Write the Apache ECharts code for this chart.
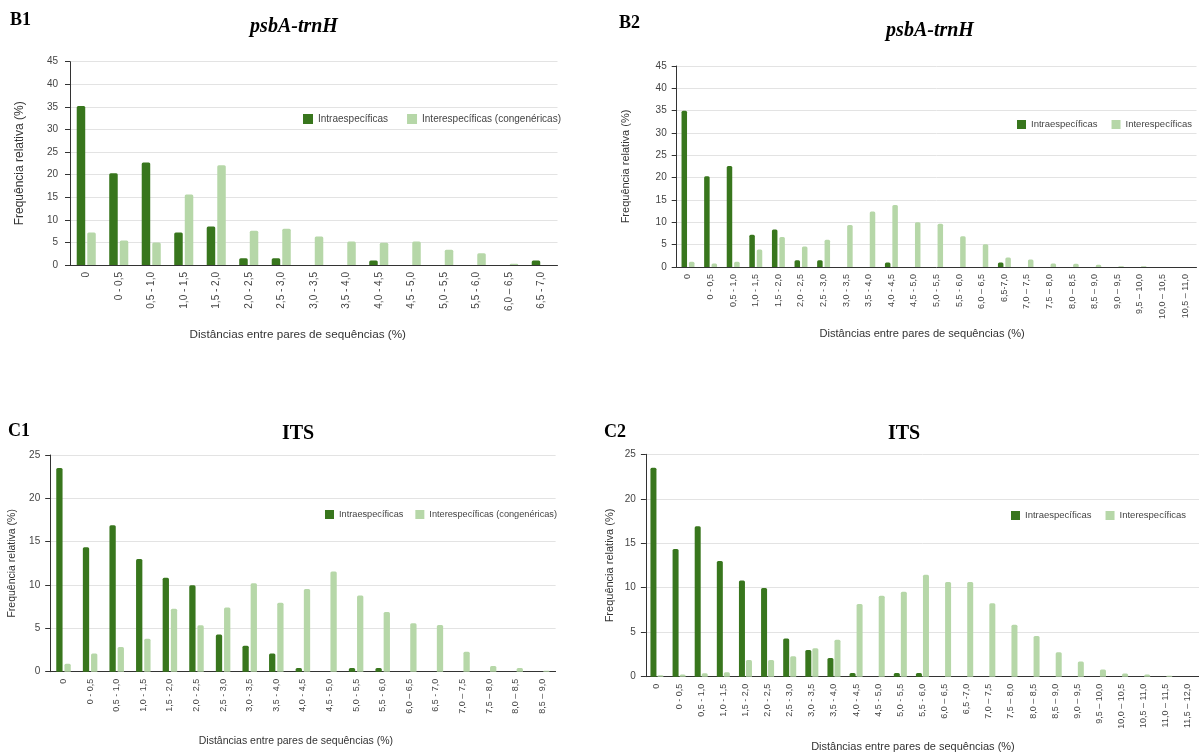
<!DOCTYPE html>
<html>
<head>
<meta charset="utf-8">
<title>psbA-trnH / ITS</title>
<script src="https://cdn.jsdelivr.net/npm/echarts@6/dist/echarts.min.js"></script>
<style>
  html, body { margin: 0; padding: 0; background: #fff; }
  #chart { width: 1199px; height: 756px; }
</style>
</head>
<body>
<div id="chart"></div>
<script>
// categorias (distâncias, %)
var catsB1 = ['0', '0 - 0,5', '0,5 - 1,0', '1,0 - 1,5', '1,5 - 2,0', '2,0 - 2,5', '2,5 - 3,0', '3,0 - 3,5',
  '3,5 - 4,0', '4,0 - 4,5', '4,5 - 5,0', '5,0 - 5,5', '5,5 - 6,0', '6,0 – 6,5', '6,5 - 7,0'];
var catsB2 = ['0', '0 - 0,5', '0,5 - 1,0', '1,0 - 1,5', '1,5 - 2,0', '2,0 - 2,5', '2,5 - 3,0', '3,0 - 3,5',
  '3,5 - 4,0', '4,0 - 4,5', '4,5 - 5,0', '5,0 - 5,5', '5,5 - 6,0', '6,0 – 6,5', '6,5-7,0', '7,0 – 7,5',
  '7,5 – 8,0', '8,0 – 8,5', '8,5 – 9,0', '9,0 – 9,5', '9,5 – 10,0', '10,0 – 10,5', '10,5 – 11,0'];
var catsC1 = ['0', '0 - 0,5', '0,5 - 1,0', '1,0 - 1,5', '1,5 - 2,0', '2,0 - 2,5', '2,5 - 3,0', '3,0 - 3,5',
  '3,5 - 4,0', '4,0 - 4,5', '4,5 - 5,0', '5,0 - 5,5', '5,5 - 6,0', '6,0 – 6,5', '6,5 - 7,0', '7,0 – 7,5',
  '7,5 – 8,0', '8,0 – 8,5', '8,5 – 9,0'];
var catsC2 = ['0', '0 - 0,5', '0,5 - 1,0', '1,0 - 1,5', '1,5 - 2,0', '2,0 - 2,5', '2,5 - 3,0', '3,0 - 3,5',
  '3,5 - 4,0', '4,0 - 4,5', '4,5 - 5,0', '5,0 - 5,5', '5,5 - 6,0', '6,0 – 6,5', '6,5 -7,0', '7,0 – 7,5',
  '7,5 – 8,0', '8,0 – 8,5', '8,5 – 9,0', '9,0 – 9,5', '9,5 – 10,0', '10,0 – 10,5', '10,5 – 11,0',
  '11,0 – 11,5', '11,5 – 12,0'];

// frequência relativa (%)
var intraB1 = [35.2, 20.3, 22.7, 7.2, 8.5, 1.5, 1.5, 0, 0, 1.0, 0, 0, 0, 0, 1.0];
var interB1 = [7.2, 5.4, 5.0, 15.6, 22.1, 7.6, 8.0, 6.3, 5.2, 4.9, 5.2, 3.4, 2.6, 0.3, 0];

var intraB2 = [35.0, 20.3, 22.6, 7.2, 8.4, 1.5, 1.5, 0, 0, 1.0, 0, 0, 0, 0, 1.0, 0, 0, 0, 0, 0, 0, 0, 0];
var interB2 = [1.2, 0.8, 1.2, 3.9, 6.7, 4.6, 6.1, 9.4, 12.4, 13.9, 10.0, 9.7, 6.9, 5.1, 2.1, 1.7,
  0.8, 0.7, 0.5, 0.15, 0.15, 0, 0];

var intraC1 = [23.5, 14.35, 16.9, 13.0, 10.85, 9.96, 4.3, 3.0, 2.1, 0.42, 0, 0.42, 0.42, 0, 0, 0, 0, 0, 0];
var interC1 = [0.92, 2.1, 2.85, 3.8, 7.27, 5.35, 7.4, 10.2, 7.96, 9.55, 11.55, 8.8, 6.9, 5.6, 5.4, 2.3,
  0.65, 0.42, 0.1];

var intraC2 = [23.5, 14.35, 16.9, 13.0, 10.8, 9.97, 4.3, 3.0, 2.1, 0.41, 0, 0.41, 0.41, 0, 0, 0, 0, 0,
  0, 0, 0, 0, 0, 0, 0];
var interC2 = [0.15, 0.26, 0.4, 0.5, 1.87, 1.87, 2.3, 3.2, 4.15, 8.17, 9.1, 9.55, 11.47, 10.65, 10.65,
  8.25, 5.85, 4.57, 2.74, 1.7, 0.82, 0.37, 0.26, 0.11, 0];

var DARK = '#38761d', LIGHT = '#b6d7a8';
var NAME_X = 'Distâncias entre pares de sequências (%)';
var NAME_Y = 'Frequência relativa (%)';

var myChart = echarts.init(document.getElementById('chart'));

// um painel = grid + eixos; estilos variam um pouco de painel para painel
var panels = [
  {grid: {left: 70, top: 61.7, width: 487.5, height: 203.3}, cats: catsB1, max: 45,
    xfs: 10, yfs: 10, nfs: 12, xnfs: 11.7, ylm: 12, ynGap: 44, xnGap: 64, xnPad: 32},
  {grid: {left: 676.7, top: 66, width: 519.8, height: 201}, cats: catsB2, max: 45,
    xfs: 9, yfs: 10, nfs: 11, xnfs: 11.1, ylm: 10, ynGap: 45, xnGap: 61, xnPad: 29},
  {grid: {left: 50.2, top: 455, width: 505.4, height: 216.7}, cats: catsC1, max: 25,
    xfs: 9, yfs: 10, nfs: 10.5, xnfs: 10.5, ylm: 10, ynGap: 33, xnGap: 64, xnPad: 14},
  {grid: {left: 645.9, top: 454.3, width: 554, height: 222.4}, cats: catsC2, max: 25,
    xfs: 9, yfs: 10, nfs: 11, xnfs: 11, ylm: 10, ynGap: 30, xnGap: 65, xnPad: 19}
];

var grids = [], xAxes = [], yAxes = [];
panels.forEach(function (p) {
  grids.push(p.grid);
  xAxes.push({
    type: 'category',
    gridIndex: grids.length - 1,
    data: p.cats,
    name: NAME_X,
    nameLocation: 'middle',
    nameGap: p.xnGap,
    nameTextStyle: {fontFamily: 'Liberation Sans', fontSize: p.xnfs, color: '#333', padding: [0, p.xnPad, 0, 0]},
    axisLine: {lineStyle: {color: '#333', width: 1}},
    axisTick: {show: false},
    axisLabel: {rotate: 90, interval: 0, margin: 7, fontFamily: 'Liberation Sans', fontSize: p.xfs, color: '#444'}
  });
  yAxes.push({
    type: 'value',
    gridIndex: grids.length - 1,
    min: 0,
    max: p.max,
    interval: 5,
    name: NAME_Y,
    nameLocation: 'middle',
    nameGap: p.ynGap,
    nameTextStyle: {fontFamily: 'Liberation Sans', fontSize: p.nfs, color: '#333'},
    axisLine: {show: true, lineStyle: {color: '#333', width: 1}},
    axisTick: {show: true, length: 5, lineStyle: {color: '#333'}},
    axisLabel: {margin: p.ylm, fontFamily: 'Liberation Sans', fontSize: p.yfs, color: '#444'},
    splitLine: {lineStyle: {color: '#e3e3e3', width: 1}}
  });
});

function bars(name, data, color, idx, bw, gap) {
  return {
    type: 'bar', name: name, data: data,
    xAxisIndex: idx, yAxisIndex: idx,
    barWidth: bw, barGap: gap,
    itemStyle: {color: color, borderRadius: [1.5, 1.5, 0, 0]}
  };
}

var titleFont = 'Liberation Serif';
var option = {
  backgroundColor: '#fff',
  animation: false,
  title: [
    {text: 'B1', left: 10, top: 11, padding: 0, textStyle: {fontFamily: titleFont, fontWeight: 'bold', fontSize: 18, color: '#000'}},
    {text: 'psbA-trnH', left: 294, top: 17, padding: 0, textAlign: 'center', textStyle: {fontFamily: titleFont, fontWeight: 'bold', fontStyle: 'italic', fontSize: 20, color: '#000'}},
    {text: 'B2', left: 619, top: 14, padding: 0, textStyle: {fontFamily: titleFont, fontWeight: 'bold', fontSize: 18, color: '#000'}},
    {text: 'psbA-trnH', left: 930, top: 21, padding: 0, textAlign: 'center', textStyle: {fontFamily: titleFont, fontWeight: 'bold', fontStyle: 'italic', fontSize: 20, color: '#000'}},
    {text: 'C1', left: 8, top: 422, padding: 0, textStyle: {fontFamily: titleFont, fontWeight: 'bold', fontSize: 18, color: '#000'}},
    {text: 'ITS', left: 298, top: 424, padding: 0, textAlign: 'center', textStyle: {fontFamily: titleFont, fontWeight: 'bold', fontSize: 20, color: '#000'}},
    {text: 'C2', left: 604, top: 423, padding: 0, textStyle: {fontFamily: titleFont, fontWeight: 'bold', fontSize: 18, color: '#000'}},
    {text: 'ITS', left: 904, top: 424, padding: 0, textAlign: 'center', textStyle: {fontFamily: titleFont, fontWeight: 'bold', fontSize: 20, color: '#000'}}
  ],
  legend: [
    {data: ['Intraespecíficas', 'Interespecíficas (congenéricas)'], left: 303, top: 114, padding: 0,
      itemWidth: 10, itemHeight: 10, itemGap: 19, icon: 'rect',
      textStyle: {fontFamily: 'Liberation Sans', fontSize: 10, color: '#444'}},
    {data: ['Intraespecíficas', 'Interespecíficas'], left: 1017, top: 119.5, padding: 0,
      itemWidth: 9, itemHeight: 9, itemGap: 14, icon: 'rect',
      textStyle: {fontFamily: 'Liberation Sans', fontSize: 9.5, color: '#444'}},
    {data: ['Intraespecíficas', 'Interespecíficas (congenéricas)'], left: 325, top: 510, padding: 0,
      itemWidth: 9, itemHeight: 9, itemGap: 12, icon: 'rect',
      textStyle: {fontFamily: 'Liberation Sans', fontSize: 9.2, color: '#444'}},
    {data: ['Intraespecíficas', 'Interespecíficas'], left: 1011, top: 510.5, padding: 0,
      itemWidth: 9, itemHeight: 9, itemGap: 14, icon: 'rect',
      textStyle: {fontFamily: 'Liberation Sans', fontSize: 9.5, color: '#444'}}
  ],
  grid: grids,
  xAxis: xAxes,
  yAxis: yAxes,
  series: [
    bars('Intraespecíficas', intraB1, DARK, 0, 8.5, '24%'),
    bars('Interespecíficas (congenéricas)', interB1, LIGHT, 0, 8.5, '24%'),
    bars('Intraespecíficas', intraB2, DARK, 1, 5.5, '35%'),
    bars('Interespecíficas', interB2, LIGHT, 1, 5.5, '35%'),
    bars('Intraespecíficas', intraC1, DARK, 2, 6.3, '30%'),
    bars('Interespecíficas (congenéricas)', interC1, LIGHT, 2, 6.3, '30%'),
    bars('Intraespecíficas', intraC2, DARK, 3, 6, '17%'),
    bars('Interespecíficas', interC2, LIGHT, 3, 6, '17%')
  ]
};

myChart.setOption(option);
window.onresize = function () {
  myChart.resize();
};
</script>
</body>
</html>
